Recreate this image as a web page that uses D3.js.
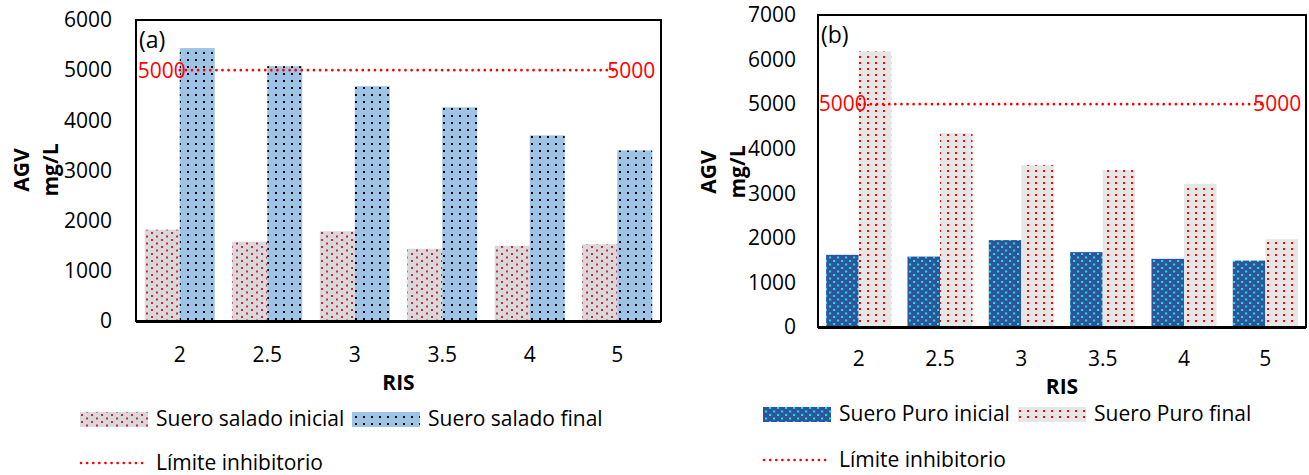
<!DOCTYPE html>
<html>
<head>
<meta charset="utf-8">
<script src="https://cdn.jsdelivr.net/npm/d3@7"></script>
<style>
  body { margin: 0; background: #fff; }
  svg { display: block; font-family: "Open Sans", "Noto Sans", sans-serif; }
</style>
</head>
<body>
<svg id="chart" width="1309" height="475"></svg>
<script>
// RIS categories and AGV values (mg/L)
const risLabels = ['2', '2.5', '3', '3.5', '4', '5'];
const saladoInicial = [1820, 1580, 1790, 1440, 1500, 1530];
const saladoFinal = [5440, 5080, 4680, 4260, 3700, 3400];
const puroInicial = [1620, 1580, 1950, 1680, 1530, 1490];
const puroFinal = [6180, 4350, 3630, 3520, 3210, 1970];
const limiteInhibitorio = 5000;
const ticksA = [0, 1000, 2000, 3000, 4000, 5000, 6000];
const ticksB = [0, 1000, 2000, 3000, 4000, 5000, 6000, 7000];

const svg = d3.select('#chart');
const defs = svg.append('defs');

// dotted fill patterns, one per series
function makePattern(id, w, h, bg, dot, dots, r) {
    const p = defs.append('pattern')
        .attr('id', id)
        .attr('patternUnits', 'userSpaceOnUse')
        .attr('width', w)
        .attr('height', h);
    p.append('rect').attr('width', w).attr('height', h).attr('fill', bg);
    dots.forEach(([x, y]) => {
        p.append('rect')
            .attr('x', x).attr('y', y)
            .attr('width', r).attr('height', r)
            .attr('fill', dot);
    });
}

makePattern('pat-sal-ini', 10, 7, '#d9d9d9', '#c8284f', [[1, 1], [6, 4.5]], 2);
makePattern('pat-sal-fin', 8, 7, '#9dc3e6', '#000', [[3, 3]], 2);
makePattern('pat-puro-ini', 8, 7, '#2f5597', '#00e5ff', [[1, 1], [5, 4.5]], 2);
makePattern('pat-puro-fin', 8, 6, '#e7e6e6', '#ff0000', [[3, 2]], 2);

const fmt = d3.format('d');

function drawPanel(cfg) {
    const g = svg.append('g');
    const x = d3.scaleBand()
        .domain(risLabels)
        .range([cfg.left, cfg.right])
        .paddingInner(0.2)
        .paddingOuter(0.1);
    const xs = d3.scaleBand()
        .domain([0, 1])
        .range([0, x.bandwidth()]);
    const y = d3.scaleLinear()
        .domain([0, cfg.yMax])
        .range([cfg.bottom, cfg.top]);

    // bars
    cfg.series.forEach((s, si) => {
        g.selectAll(null)
            .data(s.values)
            .join('rect')
            .attr('x', (d, i) => x(risLabels[i]) + xs(si))
            .attr('y', d => y(d))
            .attr('width', xs.bandwidth())
            .attr('height', d => y(0) - y(d))
            .attr('fill', `url(#${s.pattern})`);
    });

    // limit line
    const limitData = risLabels.map(r => ({ r, v: limiteInhibitorio }));
    const cx = d => x(d.r) + x.bandwidth() / 2;
    g.append('path')
        .datum(limitData)
        .attr('d', d3.line().x(cx).y(d => y(d.v)))
        .attr('fill', 'none')
        .attr('stroke', '#ff0000')
        .attr('stroke-width', 2.6)
        .attr('stroke-linecap', 'round')
        .attr('stroke-dasharray', '0.1 6');
    const first = limitData[0];
    const last = limitData[limitData.length - 1];
    g.append('text')
        .attr('x', cx(first) + cfg.labelOffL)
        .attr('y', y(first.v))
        .attr('dy', '0.35em')
        .attr('text-anchor', 'end')
        .attr('font-size', 21)
        .attr('fill', '#ff0000')
        .text(first.v);
    g.append('text')
        .attr('x', cx(last) + cfg.labelOffR)
        .attr('y', y(last.v))
        .attr('dy', '0.35em')
        .attr('font-size', 21)
        .attr('fill', '#ff0000')
        .text(last.v);

    // frame
    g.append('rect')
        .attr('x', cfg.left)
        .attr('y', cfg.top)
        .attr('width', cfg.right - cfg.left)
        .attr('height', cfg.bottom - cfg.top)
        .attr('fill', 'none')
        .attr('stroke', '#000')
        .attr('stroke-width', 2);
    g.append('line')
        .attr('x1', cfg.left).attr('x2', cfg.right)
        .attr('y1', cfg.bottom + 0.5).attr('y2', cfg.bottom + 0.5)
        .attr('stroke', '#000').attr('stroke-width', 3);

    // y axis labels
    const yAxis = d3.axisLeft(y).tickValues(cfg.ticks).tickFormat(fmt).tickSize(0).tickPadding(cfg.tickPad);
    g.append('g')
        .attr('transform', `translate(${cfg.left},0)`)
        .call(yAxis)
        .call(a => a.select('.domain').remove())
        .call(a => a.selectAll('text')
            .attr('font-size', 21)
            .attr('fill', '#000')
            .attr('font-family', '"Open Sans", sans-serif'));

    // x axis labels
    const xAxis = d3.axisBottom(x).tickSize(0).tickPadding(cfg.xPad);
    g.append('g')
        .attr('transform', `translate(0,${cfg.bottom})`)
        .call(xAxis)
        .call(a => a.select('.domain').remove())
        .call(a => a.selectAll('text')
            .attr('font-size', 21)
            .attr('fill', '#000')
            .attr('font-family', '"Open Sans", sans-serif'));

    // axis titles
    g.append('text')
        .attr('x', (cfg.left + cfg.right) / 2)
        .attr('y', cfg.risY)
        .attr('text-anchor', 'middle')
        .attr('font-size', 21)
        .attr('font-weight', 'bold')
        .text('RIS');
    [['AGV', cfg.agvX], ['mg/L', cfg.mglX]].forEach(([t, tx]) => {
        g.append('text')
            .attr('transform', `translate(${tx},${cfg.titleY}) rotate(-90)`)
            .attr('text-anchor', 'middle')
            .attr('font-size', 21)
            .attr('font-weight', 'bold')
            .text(t);
    });

    // panel tag
    g.append('text')
        .attr('x', cfg.left + 3)
        .attr('y', cfg.top + cfg.tagDy)
        .attr('font-size', 23)
        .text(cfg.tag);

    // legend
    const lg = g.append('g');
    cfg.series.forEach((s, si) => {
        const lx = cfg.legend[si];
        lg.append('rect')
            .attr('x', lx)
            .attr('y', cfg.legendY - 7)
            .attr('width', 68)
            .attr('height', 15)
            .attr('fill', `url(#${s.pattern})`);
        lg.append('text')
            .attr('x', lx + 76)
            .attr('y', cfg.legendY)
            .attr('dy', '0.35em')
            .attr('font-size', 21)
            .text(s.name);
    });
    lg.append('line')
        .attr('x1', cfg.legend[0] + 1).attr('x2', cfg.legend[0] + 68)
        .attr('y1', cfg.legendY2).attr('y2', cfg.legendY2)
        .attr('stroke', '#ff0000')
        .attr('stroke-width', 2.6)
        .attr('stroke-linecap', 'round')
        .attr('stroke-dasharray', '0.1 6');
    lg.append('text')
        .attr('x', cfg.legend[0] + 76)
        .attr('y', cfg.legendY2)
        .attr('dy', '0.33em')
        .attr('font-size', 21)
        .text('Límite inhibitorio');
}

drawPanel({
    tag: '(a)', tagDy: 28,
    left: 136, right: 661, top: 20, bottom: 321,
    yMax: 6000, ticks: ticksA, tickPad: 24, xPad: 26,
    labelOffL: 6, labelOffR: -10,
    risY: 390, agvX: 29, mglX: 58, titleY: 170,
    series: [
        { name: 'Suero salado inicial', values: saladoInicial, pattern: 'pat-sal-ini' },
        { name: 'Suero salado final', values: saladoFinal, pattern: 'pat-sal-fin' }
    ],
    legend: [80, 352], legendY: 419, legendY2: 463
});

drawPanel({
    tag: '(b)', tagDy: 28,
    left: 818, right: 1306, top: 15, bottom: 327,
    yMax: 7000, ticks: ticksB, tickPad: 22, xPad: 24,
    labelOffL: 8, labelOffR: -12,
    risY: 394, agvX: 716, mglX: 745, titleY: 172,
    series: [
        { name: 'Suero Puro inicial', values: puroInicial, pattern: 'pat-puro-ini' },
        { name: 'Suero Puro final', values: puroFinal, pattern: 'pat-puro-fin' }
    ],
    legend: [763, 1018], legendY: 414, legendY2: 460
});
</script>
</body>
</html>
